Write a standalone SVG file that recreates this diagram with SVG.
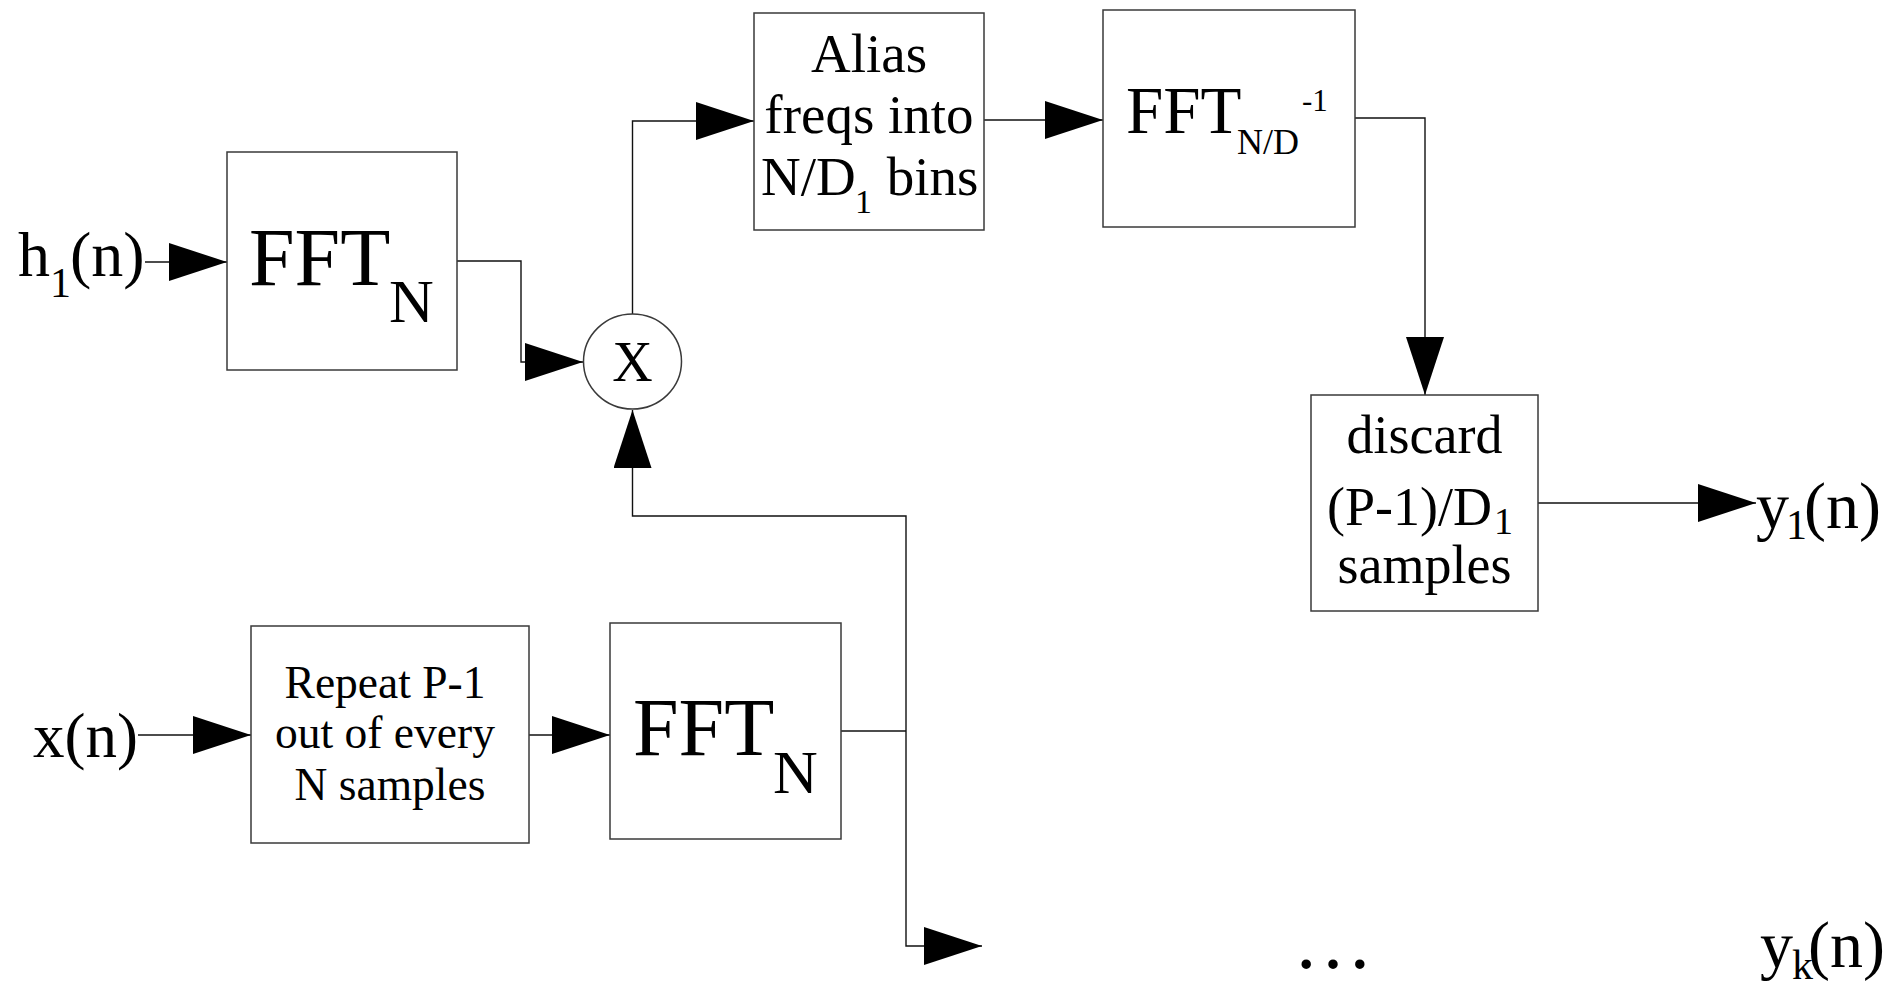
<svg xmlns="http://www.w3.org/2000/svg" width="1904" height="984" viewBox="0 0 1904 984">
<style>
.box{fill:#fff;stroke:#3a3a3a;stroke-width:1.5}
.con{fill:none;stroke:#111;stroke-width:1.4}
.t{font-family:"Liberation Serif","Times New Roman",serif;fill:#000}
</style>
<defs>
<marker id="arr" markerUnits="userSpaceOnUse" markerWidth="58" markerHeight="38" refX="58" refY="19" orient="auto" viewBox="0 0 58 38">
<path d="M0,0 L58,19 L0,38 Z" fill="#000"/>
</marker>
</defs>
<rect width="1904" height="984" fill="#fff"/>

<g id="connectors">
<path class="con" d="M145,262 H227" marker-end="url(#arr)"/>
<path class="con" d="M457,261 H521 V362 H583" marker-end="url(#arr)"/>
<path class="con" d="M632.5,314 V121 H754" marker-end="url(#arr)"/>
<path class="con" d="M984,120 H1103" marker-end="url(#arr)"/>
<path class="con" d="M1355,118 H1425 V395" marker-end="url(#arr)"/>
<path class="con" d="M1538,503 H1756" marker-end="url(#arr)"/>
<path class="con" d="M138,735 H251" marker-end="url(#arr)"/>
<path class="con" d="M529,735 H610" marker-end="url(#arr)"/>
<path class="con" d="M841,731 H906"/>
<path class="con" d="M906,731 V516 H632.5 V410" marker-end="url(#arr)"/>
<path class="con" d="M906,731 V946 H982" marker-end="url(#arr)"/>
</g>

<g id="h1_label">
<text class="t" y="276" font-size="64"><tspan x="18">h</tspan><tspan x="50" y="297" font-size="42">1</tspan><tspan x="70" y="276">(n)</tspan></text>
</g>

<g id="fft1">
<rect class="box" x="227" y="152" width="230" height="218"/>
<text class="t" font-size="82"><tspan x="249" y="285">FFT</tspan><tspan x="389" y="322" font-size="62">N</tspan></text>
</g>

<g id="mult">
<ellipse class="box" cx="632.5" cy="361.5" rx="49" ry="47.5"/>
<text class="t" x="632.5" y="381" font-size="56" text-anchor="middle">X</text>
</g>

<g id="alias">
<rect class="box" x="754" y="13" width="230" height="217"/>
<text class="t" x="869" y="72" font-size="55" text-anchor="middle">Alias</text>
<text class="t" x="869" y="133" font-size="55" text-anchor="middle">freqs into</text>
<text class="t" font-size="55"><tspan x="761" y="195">N/D</tspan><tspan x="855" y="213" font-size="34">1</tspan><tspan x="873" y="195"> bins</tspan></text>
</g>

<g id="ifft">
<rect class="box" x="1103" y="10" width="252" height="217"/>
<text class="t" font-size="67"><tspan x="1126" y="133">FFT</tspan><tspan x="1237" y="154" font-size="36">N/D</tspan><tspan x="1302" y="111" font-size="31">-1</tspan></text>
</g>

<g id="discard">
<rect class="box" x="1311" y="395" width="227" height="216"/>
<text class="t" x="1424.5" y="453" font-size="54" text-anchor="middle">discard</text>
<text class="t" font-size="54"><tspan x="1327" y="525">(P-1)/D</tspan><tspan x="1494" y="534" font-size="38">1</tspan></text>
<text class="t" x="1424.5" y="583" font-size="54" text-anchor="middle">samples</text>
</g>

<g id="y1_label">
<text class="t" font-size="66"><tspan x="1756" y="528">y</tspan><tspan x="1786" y="539" font-size="42">1</tspan><tspan x="1804" y="528">(n)</tspan></text>
</g>

<g id="x_label">
<text class="t" x="33" y="757" font-size="63">x(n)</text>
</g>

<g id="repeat">
<rect class="box" x="251" y="626" width="278" height="217"/>
<text class="t" x="385" y="698" font-size="45.5" text-anchor="middle">Repeat P-1</text>
<text class="t" x="385" y="748" font-size="45.5" text-anchor="middle">out of every</text>
<text class="t" x="390" y="800" font-size="45.5" text-anchor="middle">N samples</text>
</g>

<g id="fft2">
<rect class="box" x="610" y="623" width="231" height="216"/>
<text class="t" font-size="82"><tspan x="633" y="755">FFT</tspan><tspan x="773" y="793" font-size="62">N</tspan></text>
</g>

<g id="ellipsis">
<text class="t" x="1333" y="968" font-size="80" text-anchor="middle">…</text>
</g>

<g id="yk_label">
<text class="t" font-size="66"><tspan x="1760" y="967">y</tspan><tspan x="1792" y="979" font-size="42">k</tspan><tspan x="1808" y="967">(n)</tspan></text>
</g>
</svg>
